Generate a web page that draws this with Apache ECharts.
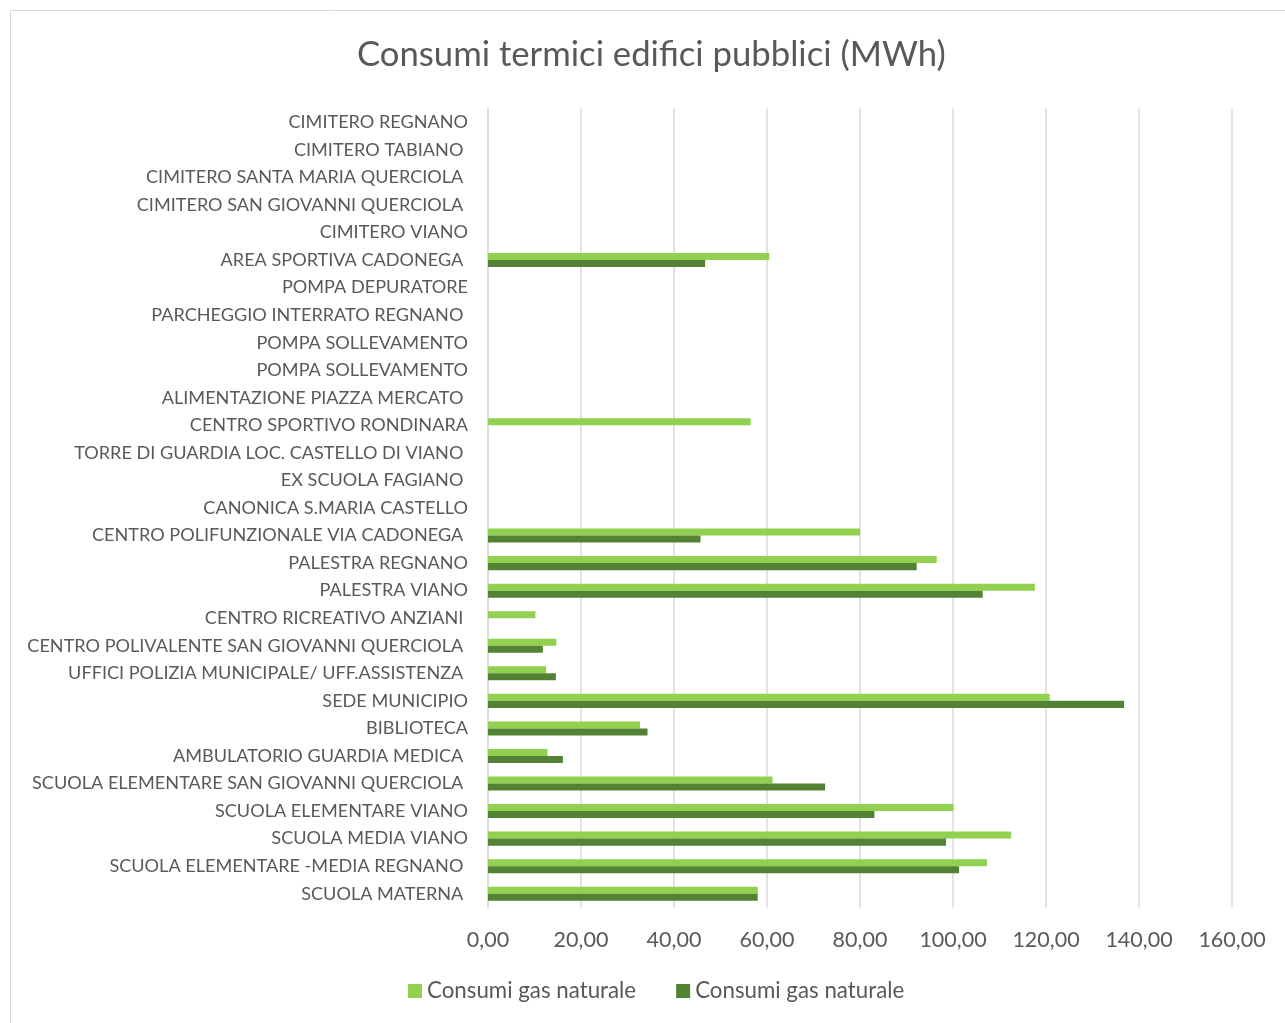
<!DOCTYPE html>
<html><head><meta charset="utf-8">
<script src="https://cdn.jsdelivr.net/npm/echarts@6/dist/echarts.min.js"></script>
<style>html,body{margin:0;padding:0;background:#fff}#c{width:1285px;height:1023px}</style>
</head><body><div id="c"></div>
<script>
// categories bottom -> top
const categories = [
  'SCUOLA MATERNA ',
  'SCUOLA ELEMENTARE -MEDIA REGNANO ',
  'SCUOLA MEDIA VIANO',
  'SCUOLA ELEMENTARE VIANO',
  'SCUOLA ELEMENTARE SAN GIOVANNI QUERCIOLA ',
  'AMBULATORIO GUARDIA MEDICA ',
  'BIBLIOTECA',
  'SEDE MUNICIPIO',
  'UFFICI POLIZIA MUNICIPALE/ UFF.ASSISTENZA ',
  'CENTRO POLIVALENTE SAN GIOVANNI QUERCIOLA ',
  'CENTRO RICREATIVO ANZIANI ',
  'PALESTRA VIANO',
  'PALESTRA REGNANO',
  'CENTRO POLIFUNZIONALE VIA CADONEGA ',
  'CANONICA S.MARIA CASTELLO',
  'EX SCUOLA FAGIANO ',
  'TORRE DI GUARDIA LOC. CASTELLO DI VIANO ',
  'CENTRO SPORTIVO RONDINARA',
  'ALIMENTAZIONE PIAZZA MERCATO ',
  'POMPA SOLLEVAMENTO',
  'POMPA SOLLEVAMENTO',
  'PARCHEGGIO INTERRATO REGNANO ',
  'POMPA DEPURATORE',
  'AREA SPORTIVA CADONEGA ',
  'CIMITERO VIANO',
  'CIMITERO SAN GIOVANNI QUERCIOLA ',
  'CIMITERO SANTA MARIA QUERCIOLA ',
  'CIMITERO TABIANO ',
  'CIMITERO REGNANO'
];
const seriesNames = ['Consumi gas naturale', 'Consumi gas naturale\u200b'];
const gasLight = [58.0, 107.3, 112.5, 100.1, 61.2, 12.8, 32.7, 120.8, 12.5, 14.7, 10.2, 117.6, 96.5, 80.0, 0, 0, 0, 56.5, 0, 0, 0, 0, 0, 60.5, 0, 0, 0, 0, 0];
const gasDark  = [58.0, 101.3, 98.5, 83.1, 72.5, 16.1, 34.3, 136.8, 14.6, 11.8, null, 106.4, 92.2, 45.7, 0, 0, 0, null, 0, 0, 0, 0, 0, 46.7, 0, 0, 0, 0, 0];
const xTicks = [0, 20, 40, 60, 80, 100, 120, 140, 160];

const txt = '#595959';
const font = 'Lato';
const chart = echarts.init(document.getElementById('c'));
chart.setOption({
  backgroundColor: '#fff',
  animation: false,
  title: {
    text: 'Consumi termici edifici pubblici (MWh)',
    left: 352, top: 32,
    textStyle: { color: txt, fontSize: 34.7, fontWeight: 'normal', fontFamily: font }
  },
  graphic: [{ type: 'rect', shape: { x: 10.5, y: 10.5, width: 1290, height: 1030 }, style: { fill: 'none', stroke: '#d9d9d9', lineWidth: 1 } }],
  legend: {
    bottom: 16, left: 403, itemWidth: 14, itemHeight: 14, itemGap: 40,
    icon: 'rect',
    textStyle: { color: txt, fontSize: 22.3, fontFamily: font },
    data: seriesNames
  },
  grid: { left: 488, right: 53, top: 108.5, bottom: 115.5, containLabel: false },
  xAxis: {
    type: 'value', min: 0, max: 160, interval: 20,
    axisLine: { show: false }, axisTick: { show: false },
    splitLine: { lineStyle: { color: '#d9d9d9', width: 1.5 } },
    axisLabel: { color: txt, fontSize: 21.5, fontFamily: font, margin: 22,
      formatter: v => xTicks.includes(v) ? v.toFixed(2).replace('.', ',') : '' }
  },
  yAxis: {
    type: 'category', data: categories,
    axisLine: { show: true, lineStyle: { color: '#d9d9d9', width: 1.5 } },
    axisTick: { show: false },
    axisLabel: { color: txt, fontSize: 18.1, fontFamily: font, margin: 20, interval: 0 }
  },
  series: [
    { name: seriesNames[0], type: 'bar', data: gasLight, itemStyle: { color: '#92D050' }, barGap: '0%', barCategoryGap: '49%' },
    { name: seriesNames[1], type: 'bar', data: gasDark, itemStyle: { color: '#548235' }, barGap: '0%', barCategoryGap: '49%' }
  ]
});
</script></body></html>
